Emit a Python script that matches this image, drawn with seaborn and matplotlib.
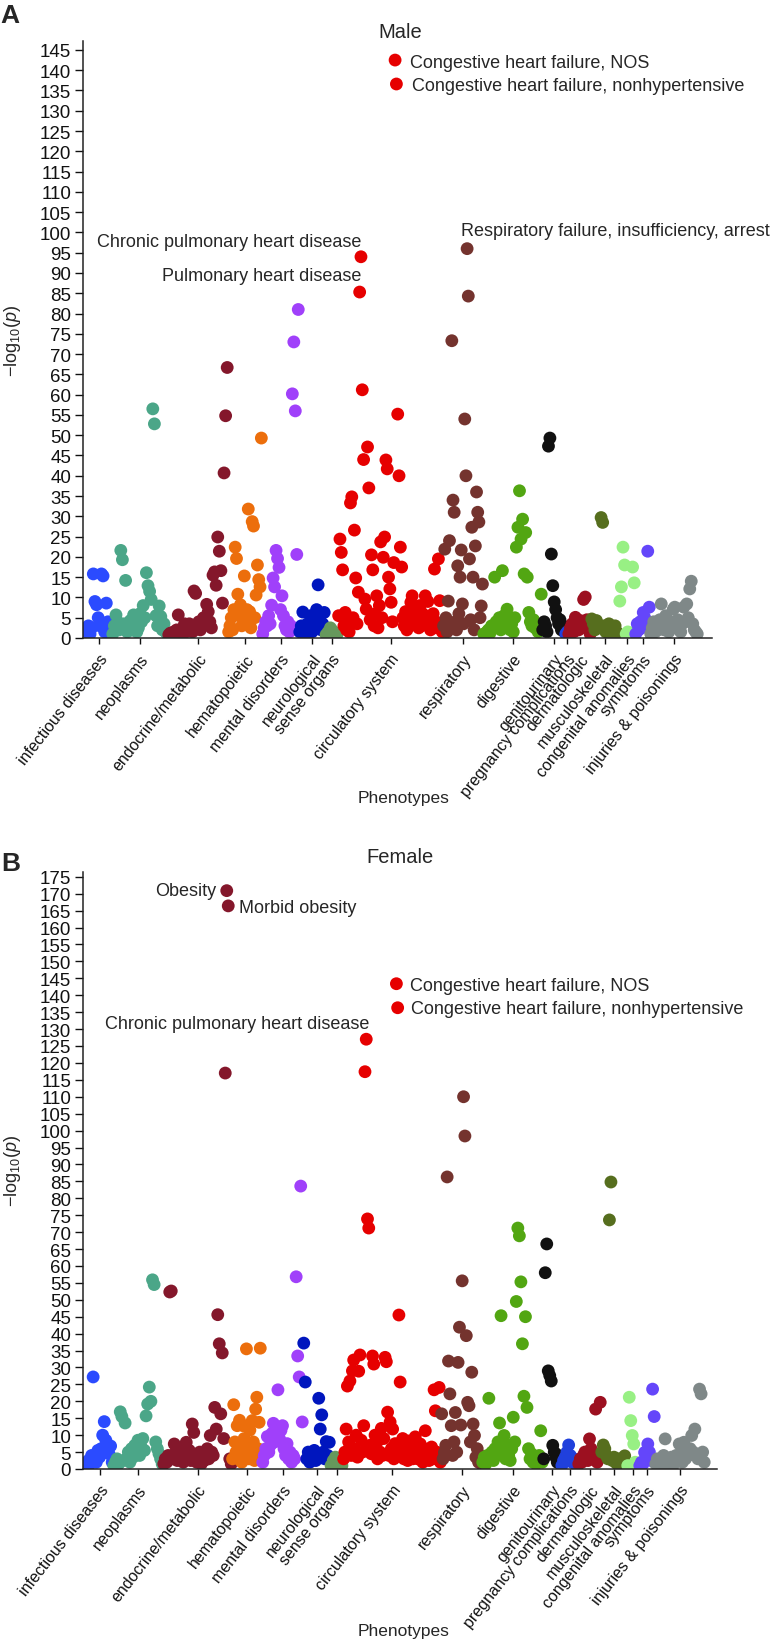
import pandas as pd
import seaborn as sns
import matplotlib.pyplot as plt

# phenotype groups, in the order they appear along the x axis
categories = ["infectious diseases", "neoplasms", "endocrine/metabolic", "hematopoietic",
              "mental disorders", "neurological", "sense organs", "circulatory system",
              "respiratory", "digestive", "genitourinary", "pregnancy complications",
              "dermatologic", "musculoskeletal", "congenital anomalies", "symptoms",
              "injuries & poisonings"]
colors = ["#2b4bff", "#4ba688", "#84172b", "#ec6e0c", "#a040fa", "#0016be", "#66985c",
          "#e60000", "#74332e", "#52a612", "#111111", "#2040dc", "#9c1020", "#566e1e",
          "#98f084", "#6446fa", "#7f8888"]

# where each group starts / ends on the ordered phenotype axis
male_edges = [3, 29, 85, 145, 179, 216, 242, 255, 360, 400, 459, 482, 485, 508, 536, 552, 567, 615]
female_edges = [3, 30, 80, 149, 179, 220, 247, 260, 358, 399, 460, 478, 495, 518, 544, 556, 572, 622]

# -log10(p) per phenotype, left to right within each group -- male
m_inf = [1.5, 3.0, 1.0, 2.5, 15.8, 9.0, 8.2, 5.0, 3.0, 15.8, 15.3, 1.5, 8.6, 4.0, 2.0, 1.0]
m_neo = [1.0, 3.0, 5.7, 4.0, 2.0, 21.6, 19.3, 3.5, 14.2, 1.5, 3.0, 4.3, 2.0, 5.7, 3.5, 1.5, 2.5,
         6.0, 4.0, 8.0, 5.0, 16.1, 12.9, 11.5, 9.5, 56.5, 52.8, 5.5, 3.0, 7.9, 5.3, 2.0, 3.5, 1.5, 1.0]
m_endo = [0.8, 1.2, 0.8, 1.5, 1.0, 2.0, 5.7, 1.5, 1.0, 2.5, 3.5, 1.5, 2.0, 3.5, 2.5, 1.5, 11.6,
          11.0, 3.0, 4.0, 2.0, 3.5, 5.0, 4.5, 8.3, 6.5, 4.0, 2.5, 15.5, 16.3, 13.0, 24.9, 21.4,
          16.6, 8.6, 40.7, 54.8, 66.7]
m_hemat = [1.5, 3.0, 5.0, 2.0, 7.0, 22.4, 19.6, 10.8, 5.5, 8.2, 3.0, 6.0, 15.3, 4.0, 7.0, 31.8,
           6.5, 2.5, 28.7, 27.6, 5.0, 10.6, 18.0, 14.4, 12.6, 49.3]
m_mental = [1.0, 2.5, 4.0, 3.0, 5.5, 3.5, 8.1, 14.8, 12.6, 21.6, 19.6, 17.4, 7.0, 10.4, 5.5, 3.0,
            2.0, 4.0, 1.5, 3.0, 60.2, 73.0, 56.0, 20.6, 81.0]
m_neuro = [1.5, 3.0, 6.4, 2.0, 1.0, 3.5, 2.5, 5.5, 1.5, 4.0, 3.0, 7.0, 13.1, 4.5, 2.0, 3.5, 6.3]
m_sense = [0.8, 1.5, 2.5, 1.8, 1.0, 0.8]
m_circ = [5.5, 24.4, 21.1, 16.8, 3.0, 6.3, 2.0, 4.0, 1.5, 33.3, 34.8, 5.0, 26.6, 14.8, 3.5, 11.3,
          85.3, 94.0, 61.2, 44.0, 9.6, 7.1, 47.1, 37.0, 4.5, 20.5, 16.8, 3.0, 6.0, 10.4, 2.5, 8.0,
          23.7, 5.0, 19.9, 24.9, 43.9, 41.7, 15.0, 12.1, 8.8, 4.0, 18.6, 142.5, 136.6, 55.2, 40.0,
          22.4, 17.5, 5.0, 3.0, 6.5, 2.0, 4.5, 3.0, 8.8, 10.4, 5.5, 3.5, 7.0, 4.0, 2.5, 8.0, 3.0,
          6.0, 4.0, 10.4, 5.0, 9.0, 4.5, 2.0, 3.5, 6.0, 17.0, 4.0, 2.5, 19.5, 9.2, 3.0, 1.5]
m_resp = [3.0, 21.9, 5.0, 1.5, 9.1, 24.0, 2.5, 73.3, 34.0, 31.0, 4.0, 2.0, 17.8, 6.0, 15.0, 21.7,
          8.4, 3.5, 54.0, 40.0, 96.0, 84.3, 19.5, 4.5, 27.3, 15.0, 2.0, 22.7, 36.0, 31.0, 28.6,
          5.0, 7.9, 13.3]
m_dig = [1.0, 0.8, 1.5, 2.0, 1.2, 3.0, 2.5, 15.0, 4.0, 3.0, 5.0, 2.0, 16.6, 5.5, 3.0, 7.1, 4.0,
         2.0, 3.5, 1.5, 5.0, 22.4, 27.3, 36.3, 24.4, 29.3, 15.8, 26.0, 15.0, 6.3, 4.0, 3.0, 4.5,
         2.5, 3.5, 1.5, 2.0, 10.8]
m_genito = [2.0, 4.0, 3.0, 1.5, 47.3, 49.3, 20.7, 12.9, 8.9, 7.0, 5.0, 3.5, 4.5, 2.0, 3.0, 1.5]
m_preg = [1.0, 1.5]
m_derm = [1.0, 2.5, 3.5, 1.5, 5.1, 3.0, 2.0, 4.3, 3.0, 9.5, 10.1, 4.5, 2.0, 1.0]
m_musc = [4.7, 3.5, 2.0, 4.3, 3.0, 2.5, 29.7, 28.5, 3.0, 1.5, 2.5, 3.5, 2.0, 1.0, 2.6, 3.0, 1.5, 1.0]
m_cong = [9.1, 12.6, 22.4, 18.0, 1.0, 1.5, 0.8, 1.2, 17.5, 13.6]
m_symp = [1.0, 3.5, 2.0, 4.0, 2.5, 6.3, 5.0, 3.0, 21.4, 7.6]
m_inj = [1.0, 2.5, 4.0, 1.5, 3.0, 2.0, 4.5, 8.4, 3.5, 2.0, 5.5, 3.0, 1.5, 4.0, 2.5, 7.1, 7.6, 3.0,
         4.5, 2.0, 1.5, 3.5, 7.6, 4.0, 8.4, 5.0, 12.1, 14.0, 3.5, 2.0, 1.5, 1.0]

# -- female
f_inf = [1.0, 2.5, 1.5, 4.0, 27.2, 3.0, 2.0, 5.5, 3.5, 6.0, 10.0, 14.0, 8.5, 6.9, 4.5, 6.8, 2.0]
f_neo = [1.0, 2.0, 3.0, 1.5, 16.9, 15.5, 2.5, 13.6, 3.0, 5.0, 2.0, 6.0, 3.5, 7.0, 5.0, 8.5, 4.0,
         6.5, 9.0, 5.5, 15.7, 19.2, 24.2, 20.0, 55.9, 54.5, 8.0, 6.0, 4.5, 3.0, 1.5]
f_endo = [1.5, 3.0, 2.0, 4.0, 52.3, 52.6, 3.0, 7.4, 5.0, 2.5, 4.5, 3.0, 6.0, 2.0, 3.5, 7.9, 4.0,
          5.5, 2.5, 13.3, 10.8, 4.0, 2.0, 3.0, 5.0, 1.5, 3.5, 2.5, 4.5, 6.0, 3.0, 9.9, 5.0, 4.0,
          18.2, 11.8, 45.6, 37.0, 16.3, 34.3, 9.0, 117.0, 170.9, 166.4, 3.0, 1.5]
f_hemat = [3.0, 19.0, 8.0, 5.0, 12.8, 3.0, 14.4, 6.0, 2.0, 12.8, 9.0, 4.0, 35.5, 7.0, 3.0, 11.5,
           5.0, 14.3, 8.0, 2.5, 17.7, 21.2, 6.0, 13.8, 35.7, 4.0]
f_mental = [2.0, 4.0, 6.0, 9.6, 5.0, 7.0, 10.5, 13.5, 8.0, 12.0, 23.4, 9.0, 11.4, 12.8, 6.0, 4.0,
            7.5, 3.0, 5.0, 2.0, 4.0, 3.0, 56.8, 33.4, 27.2, 83.6, 13.9]
f_neuro = [37.2, 25.7, 3.0, 5.0, 2.0, 4.0, 3.5, 5.5, 2.5, 4.0, 20.9, 11.8, 16.0, 5.0, 3.0, 8.1, 4.0, 7.9]
f_sense = [1.0, 2.5, 3.5, 3.0, 1.5, 1.0]
f_circ = [3.0, 5.0, 11.8, 24.5, 8.0, 26.0, 4.0, 29.0, 32.2, 6.0, 10.0, 3.5, 28.9, 33.7, 8.5, 5.0,
          12.8, 117.4, 127.0, 73.9, 71.2, 7.0, 4.5, 33.4, 31.0, 10.0, 6.0, 3.0, 8.5, 5.0, 12.0,
          4.0, 9.0, 33.0, 31.7, 16.8, 4.0, 13.9, 6.0, 11.8, 3.0, 7.5, 143.4, 136.3, 45.5, 25.7,
          5.0, 9.0, 3.0, 6.0, 4.0, 2.5, 8.3, 5.0, 7.4, 3.0, 4.5, 9.5, 6.0, 3.0, 5.0, 7.4, 4.0,
          2.0, 6.0, 11.3, 3.5, 5.0, 2.5, 4.0, 6.5, 3.0, 23.4, 17.2, 5.0, 3.0, 24.1, 2.0]
f_resp = [16.3, 3.0, 4.9, 7.0, 86.3, 31.9, 22.2, 12.8, 4.0, 8.0, 16.7, 5.0, 31.5, 41.9, 13.0,
          55.6, 110.0, 98.4, 39.4, 19.7, 18.7, 8.0, 28.6, 13.3, 9.9, 3.5, 6.0, 2.0, 4.0, 1.5]
f_dig = [2.0, 3.5, 1.5, 4.0, 20.9, 3.0, 5.0, 2.5, 6.0, 4.0, 8.0, 13.6, 45.3, 5.0, 9.9, 3.0, 7.0,
         4.0, 2.5, 6.0, 15.3, 8.0, 49.5, 71.2, 68.9, 55.3, 37.0, 21.5, 45.0, 18.2, 6.0, 3.0, 4.5,
         2.0, 3.5, 1.5, 2.5, 4.0, 11.3, 2.0]
f_genito = [3.0, 58.0, 66.5, 29.0, 27.6, 26.0, 7.0, 5.0, 3.5, 2.0, 4.0, 1.5]
f_preg = [1.0, 2.5, 3.5, 5.0, 7.1, 4.0, 2.0, 3.0, 1.5, 1.0]
f_derm = [1.5, 3.0, 2.0, 4.0, 5.0, 3.0, 2.5, 8.9, 6.0, 3.5, 4.0, 17.7, 2.0, 3.0, 19.7]
f_musc = [5.0, 7.1, 6.0, 4.0, 3.0, 73.6, 84.8, 2.5, 3.5, 2.0, 1.5, 3.0, 2.0, 1.0, 2.5, 3.9, 1.5]
f_cong = [1.0, 21.2, 14.3, 9.9, 7.4, 2.0, 1.0, 1.5]
f_symp = [1.0, 2.0, 1.5, 4.9, 3.0, 7.4, 5.0, 2.5, 23.6, 15.5]
f_inj = [1.5, 3.0, 2.0, 1.0, 2.5, 4.0, 8.9, 3.0, 1.5, 2.0, 3.5, 1.0, 2.5, 4.0, 3.0, 7.4, 4.5, 2.0,
         7.9, 3.0, 5.0, 4.0, 6.0, 9.9, 5.0, 11.8, 4.0, 3.0, 23.6, 22.2, 5.0, 2.0]

male_lists = [m_inf, m_neo, m_endo, m_hemat, m_mental, m_neuro, m_sense, m_circ, m_resp, m_dig,
              m_genito, m_preg, m_derm, m_musc, m_cong, m_symp, m_inj]
female_lists = [f_inf, f_neo, f_endo, f_hemat, f_mental, f_neuro, f_sense, f_circ, f_resp, f_dig,
                f_genito, f_preg, f_derm, f_musc, f_cong, f_symp, f_inj]

# labelled phenotypes: text and the -log10(p) of the point they belong to
male_labels = ["Congestive heart failure, NOS", "Congestive heart failure, nonhypertensive",
               "Chronic pulmonary heart disease", "Pulmonary heart disease",
               "Respiratory failure, insufficiency, arrest"]
male_label_values = [142.5, 136.6, 94.0, 85.3, 96.0]
female_labels = ["Obesity", "Morbid obesity", "Chronic pulmonary heart disease",
                 "Congestive heart failure, NOS", "Congestive heart failure, nonhypertensive"]
female_label_values = [170.9, 166.4, 127.0, 143.4, 136.3]


def panel_frame(value_lists, edges):
    # phenotypes are spread evenly over their group's stretch of the ordered axis
    rows = []
    for cat, vals, lo, hi in zip(categories, value_lists, edges[:-1], edges[1:]):
        step = (hi - lo) / len(vals)
        for i, v in enumerate(vals):
            rows.append((cat, lo + step * (i + 0.5), v))
    return pd.DataFrame(rows, columns=["category", "phenotype", "logp"])


sns.set_style("ticks")
plt.rcParams["font.family"] = ["Liberation Sans", "DejaVu Sans"]
plt.rcParams["mathtext.fontset"] = "custom"
plt.rcParams["mathtext.rm"] = "Liberation Sans"
plt.rcParams["mathtext.it"] = "Liberation Sans:italic"

W, H = 772, 1640
fig = plt.figure(figsize=(W / 100, H / 100), dpi=100)
ax_m = fig.add_axes([83 / W, 1 - 639 / H, 629 / W, 597 / H])
ax_f = fig.add_axes([83 / W, 1 - 1470 / H, 634 / W, 597.3 / H])

palette = dict(zip(categories, colors))

panels = [
    (ax_m, panel_frame(male_lists, male_edges), 629, 147.2, 145, "Male", 38.3, 639, 799,
     male_labels, male_label_values,
     [((11, -5), "left"), ((11, -4.5), "left"), ((0.5, 8.1), "right"),
      ((1.4, 8.6), "right"), ((-4.5, 10), "left")]),
    (ax_f, panel_frame(female_lists, female_edges), 634, 176.5, 175, "Female", 863.3, 1470, 1631,
     female_labels, female_label_values,
     [((-7.5, -3.4), "right"), ((8, -4.5), "left"), ((2, 8.4), "right"),
      ((9.5, -4.8), "left"), ((9.5, -4.1), "left")]),
]

for (ax, df, xmax, ymax, ytop, title, title_y, axis_y, xlab_y,
     labels, label_vals, label_style) in panels:
    sns.scatterplot(data=df, x="phenotype", y="logp", hue="category", hue_order=categories,
                    palette=palette, s=85, linewidth=0, alpha=1, legend=False, ax=ax)
    ax.set_xlim(0, xmax)
    ax.set_ylim(0, ymax)
    sns.despine(ax=ax)
    for side in ["left", "bottom"]:
        ax.spines[side].set_linewidth(1.1)
        ax.spines[side].set_color("#222222")

    ax.set_yticks(range(0, ytop + 1, 5))
    ax.tick_params(axis="y", length=5.5, width=1, pad=3, labelsize=13.5, colors="#111111")

    centers = df.groupby("category", sort=False)["phenotype"].mean()
    ax.set_xticks(centers.values)
    ax.set_xticklabels(centers.index, rotation=52, ha="right", va="top",
                       rotation_mode="anchor", fontsize=11.5)
    ax.tick_params(axis="x", length=4.5, width=1, pad=5, colors="#111111")

    ax.set_xlabel("Phenotypes", fontsize=12.5)
    ax.xaxis.set_label_coords((404 - 83) / xmax, (axis_y - xlab_y) / 597)
    ax.xaxis.label.set_va("center")
    ax.set_ylabel(r"$-\mathrm{log}_{10}(p)$", fontsize=13)
    ax.yaxis.set_label_coords(-0.095, 0.5)

    fig.text(400 / W, 1 - title_y / H, title, ha="center", va="baseline", fontsize=14.5)

    for text, val, (offset, ha) in zip(labels, label_vals, label_style):
        pt = df.loc[(df["logp"] - val).abs().idxmin()]
        ax.annotate(text, xy=(pt["phenotype"], pt["logp"]), xytext=offset,
                    textcoords="offset points", ha=ha, va="baseline", fontsize=13)

fig.text(10 / W, 1 - 16 / H, "A", ha="center", va="center", fontsize=19, fontweight="bold")
fig.text(11 / W, 1 - 864 / H, "B", ha="center", va="center", fontsize=19, fontweight="bold")

fig.savefig("out.png", dpi=100)
